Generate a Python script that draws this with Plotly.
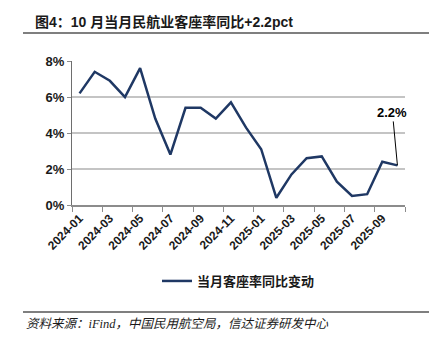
import plotly.graph_objects as go

# Monthly change in passenger load factor, year over year (percentage points)
months = [
    "2024-01", "2024-02", "2024-03", "2024-04", "2024-05", "2024-06",
    "2024-07", "2024-08", "2024-09", "2024-10", "2024-11", "2024-12",
    "2025-01", "2025-02", "2025-03", "2025-04", "2025-05", "2025-06",
    "2025-07", "2025-08", "2025-09", "2025-10",
]
load_factor_yoy = [
    6.2, 7.4, 6.9, 6.0, 7.6, 4.8,
    2.8, 5.4, 5.4, 4.8, 5.7, 4.3,
    3.1, 0.4, 1.7, 2.6, 2.7, 1.3,
    0.5, 0.6, 2.4, 2.2,
]
y_ticks = [0, 2, 4, 6, 8]
y_tick_labels = ["0%", "2%", "4%", "6%", "8%"]
series_name = "当月客座率同比变动"
title_text = "图4：10 月当月民航业客座率同比+2.2pct"
source_text = "资料来源：iFind，中国民用航空局，信达证券研发中心"

W, H = 432, 348
L, R, T, B = 72, 27, 61, 143
PW, PH = W - L - R, H - T - B


def px_x(x):
    return (x - L) / PW


def px_y(y):
    return (H - B - y) / PH


idx = list(range(len(months)))
label_idx = idx[::2]

BOLD = "Liberation Sans, Noto Sans CJK SC, sans-serif"
LINE_COLOR = "#1f3864"

fig = go.Figure()
fig.add_trace(go.Scatter(
    x=idx, y=load_factor_yoy, mode="lines", name=series_name,
    line=dict(color=LINE_COLOR, width=2.5),
))

last = len(months) - 1
fig.add_annotation(
    x=last, y=load_factor_yoy[last], xref="x", yref="y",
    text="<b>%.1f%%</b>" % load_factor_yoy[last],
    showarrow=True, arrowhead=0, arrowwidth=1, arrowcolor="#000000",
    ax=-5, ay=-53, standoff=0,
    font=dict(family=BOLD, size=13, color="#000000"),
)

# Title and its rule
fig.add_annotation(
    x=px_x(33), y=px_y(22), xref="paper", yref="paper",
    xanchor="left", yanchor="middle", showarrow=False,
    text="<b>" + title_text + "</b>",
    font=dict(family=BOLD, size=14, color="#1a1a1a"),
)
fig.add_shape(type="line", xref="paper", yref="paper",
              x0=px_x(23), x1=px_x(429), y0=px_y(33), y1=px_y(33),
              line=dict(color="#555555", width=1.5))

# Source note and its rule
fig.add_shape(type="line", xref="paper", yref="paper",
              x0=px_x(23), x1=px_x(429), y0=px_y(312), y1=px_y(312),
              line=dict(color="#555555", width=1.5))
fig.add_annotation(
    x=px_x(24), y=px_y(324), xref="paper", yref="paper",
    xanchor="left", yanchor="middle", showarrow=False,
    text="<i>" + source_text + "</i>",
    font=dict(family="Liberation Serif, Noto Sans CJK SC, serif", size=12.5, color="#1a1a1a"),
)

fig.update_layout(
    width=W, height=H,
    margin=dict(l=L, r=R, t=T, b=B),
    paper_bgcolor="white", plot_bgcolor="white",
    showlegend=True,
    legend=dict(
        x=px_x(157), y=px_y(281), xanchor="left", yanchor="middle",
        orientation="h", itemwidth=30,
        font=dict(family=BOLD, size=13, color="#1a1a1a", weight="bold"),
        bgcolor="rgba(0,0,0,0)",
    ),
    xaxis=dict(
        range=[-0.5, len(months) - 0.5],
        tickmode="array", tickvals=label_idx,
        ticktext=[months[i] for i in label_idx],
        tickangle=-45, ticks="",
        tickfont=dict(family=BOLD, size=12, color="#1a1a1a", weight="bold"),
        showline=True, linecolor="#8c8c8c", linewidth=1.5,
        showgrid=False, zeroline=False,
        minor=dict(tickmode="linear", tick0=-0.5, dtick=2, ticks="outside",
                   ticklen=5, tickcolor="#8c8c8c", tickwidth=1, showgrid=False),
    ),
    yaxis=dict(
        range=[0, 8], tickmode="array", tickvals=y_ticks, ticktext=y_tick_labels,
        ticks="outside", ticklen=4, tickcolor="#8c8c8c",
        tickfont=dict(family=BOLD, size=13, color="#1a1a1a", weight="bold"),
        showline=True, linecolor="#6e6e6e", linewidth=1.2,
        showgrid=True, gridcolor="#c4c4c4", gridwidth=1.5,
        zeroline=False,
    ),
)

fig.write_html("out.html")
